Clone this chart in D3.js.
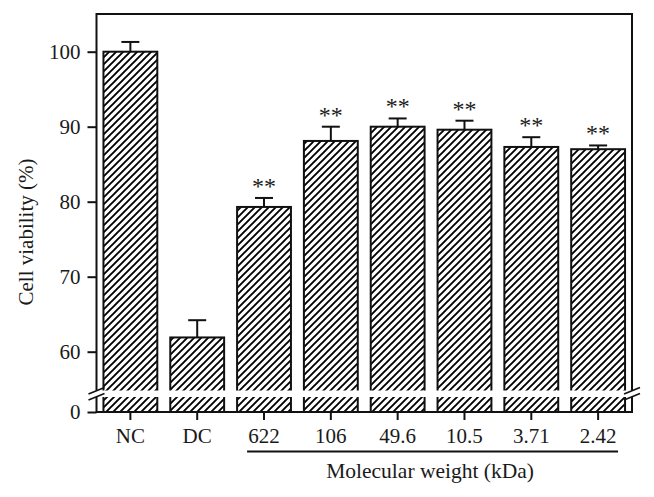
<!DOCTYPE html>
<html>
<head>
<meta charset="utf-8">
<script src="https://cdn.jsdelivr.net/npm/d3@7"></script>
<style>
  body { margin: 0; background: #fff; }
  svg text { font-family: "Liberation Serif", "DejaVu Serif", serif; fill: #1a1a1a; }
</style>
</head>
<body>
<svg width="654" height="497"></svg>
<script>
// chart values
var categories = ['NC', 'DC', '622', '106', '49.6', '10.5', '3.71', '2.42'];
var means = [100, 61.9, 79.3, 88.1, 90.0, 89.6, 87.3, 87.0];
var errors = [1.3, 2.3, 1.2, 1.9, 1.1, 1.2, 1.3, 0.5];
var marks = ['', '', '**', '**', '**', '**', '**', '**'];
var yTicks = [0, 60, 70, 80, 90, 100];
var groupLabel = 'Molecular weight (kDa)';
var yLabel = 'Cell viability (%)';

function main() {
	var svg = d3.select('svg');
	var left = 96.5, right = 632, top = 14, bottom = 412;
	var fs = '21px';

	var x = d3.scaleBand()
		.domain(categories)
		.range([left, right])
		.paddingInner(0.194)
		.paddingOuter(0.104);

	// broken axis: 0..56 squeezed into the bottom strip
	var y = d3.scaleLinear()
		.domain([0, 56, 105])
		.range([bottom, 381.7, 14.2]);

	var defs = svg.append('defs');
	var pat = defs.append('pattern')
		.attr('id', 'hatch')
		.attr('patternUnits', 'userSpaceOnUse')
		.attr('width', 7)
		.attr('height', 7);
	pat.append('path')
		.attr('d', 'M-1,1 l2,-2 M0,7 l7,-7 M6,8 l2,-2')
		.attr('stroke', '#000')
		.attr('stroke-width', 1.9);

	var data = categories.map(function(c, i) {
		return { cat: c, mean: means[i], err: errors[i], mark: marks[i] };
	});

	// bars
	svg.append('g').selectAll('rect')
		.data(data)
		.enter().append('rect')
		.attr('x', function(d) { return x(d.cat); })
		.attr('y', function(d) { return y(d.mean); })
		.attr('width', x.bandwidth())
		.attr('height', function(d) { return y(0) - y(d.mean); })
		.attr('fill', 'url(#hatch)')
		.attr('stroke', '#111')
		.attr('stroke-width', 2);

	// error bars (upper only)
	var eb = svg.append('g').attr('stroke', '#111').attr('stroke-width', 2);
	data.forEach(function(d) {
		var cx = x(d.cat) + x.bandwidth() / 2;
		eb.append('line')
			.attr('x1', cx).attr('x2', cx)
			.attr('y1', y(d.mean)).attr('y2', y(d.mean + d.err));
		eb.append('line')
			.attr('x1', cx - 9).attr('x2', cx + 9)
			.attr('y1', y(d.mean + d.err)).attr('y2', y(d.mean + d.err));
	});

	// significance marks
	svg.append('g').selectAll('text')
		.data(data.filter(function(d) { return d.mark; }))
		.enter().append('text')
		.attr('x', function(d) { return x(d.cat) + x.bandwidth() / 2; })
		.attr('y', function(d) { return y(d.mean + d.err) - 4; })
		.attr('text-anchor', 'middle')
		.style('font-size', '24px')
		.text(function(d) { return d.mark; });

	// frame
	svg.append('rect')
		.attr('x', left).attr('y', top)
		.attr('width', right - left).attr('height', bottom - top)
		.attr('fill', 'none')
		.attr('stroke', '#111')
		.attr('stroke-width', 2);

	// axes
	var yAxis = svg.append('g')
		.attr('transform', 'translate(' + left + ',0)')
		.call(d3.axisLeft(y).tickValues(yTicks).tickSize(9).tickPadding(7).tickFormat(d3.format('d')));
	yAxis.select('.domain').remove();
	yAxis.selectAll('line').attr('stroke', '#111').attr('stroke-width', 2);
	yAxis.selectAll('text').style('font-size', fs).attr('fill', '#1a1a1a');

	var xAxis = svg.append('g')
		.attr('transform', 'translate(0,' + bottom + ')')
		.call(d3.axisBottom(x).tickSize(8).tickPadding(8));
	xAxis.select('.domain').remove();
	xAxis.selectAll('line').attr('stroke', '#111').attr('stroke-width', 2);
	xAxis.selectAll('text').style('font-size', fs).attr('fill', '#1a1a1a');

	// axis break
	svg.append('rect')
		.attr('x', 80).attr('y', 390.5)
		.attr('width', 570).attr('height', 6.5)
		.attr('fill', '#fff');
	var br = svg.append('g').attr('stroke', '#111').attr('stroke-width', 1.6);
	[left, right].forEach(function(bx) {
		br.append('line')
			.attr('x1', bx - 8).attr('y1', 394)
			.attr('x2', bx + 8).attr('y2', 387.5);
		br.append('line')
			.attr('x1', bx - 8).attr('y1', 400)
			.attr('x2', bx + 8).attr('y2', 393.5);
	});

	// group underline and label
	var x0 = x('622'), x1 = x('2.42') + x.bandwidth();
	svg.append('line')
		.attr('x1', x0 + 10).attr('x2', x1 - 7)
		.attr('y1', 451.5).attr('y2', 451.5)
		.attr('stroke', '#111')
		.attr('stroke-width', 1.8);
	svg.append('text')
		.attr('x', (x0 + x1) / 2 - 1)
		.attr('y', 478)
		.attr('text-anchor', 'middle')
		.style('font-size', '21.5px')
		.text(groupLabel);

	svg.append('text')
		.attr('transform', 'translate(33,232) rotate(-90)')
		.attr('text-anchor', 'middle')
		.style('font-size', fs)
		.text(yLabel);
}
main();
</script>
</body>
</html>
